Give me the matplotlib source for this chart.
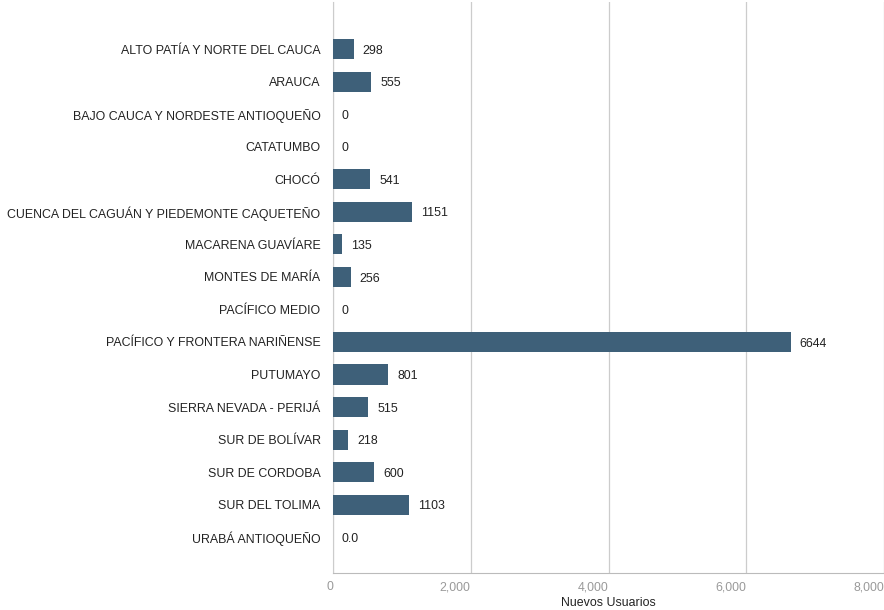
import matplotlib.pyplot as plt
from matplotlib import font_manager as fm

# fuente regular (evitar la variante Narrow)
ruta = [f.fname for f in fm.fontManager.ttflist
        if 'LiberationSans-Regular' in f.fname]
if ruta:
    fuente = fm.FontProperties(fname=ruta[0], size=8.9)
else:
    fuente = fm.FontProperties(family='DejaVu Sans', size=8.2)

regiones = ['ALTO PATÍA Y NORTE DEL CAUCA', 'ARAUCA', 'BAJO CAUCA Y NORDESTE ANTIOQUEÑO',
            'CATATUMBO', 'CHOCÓ', 'CUENCA DEL CAGUÁN Y PIEDEMONTE CAQUETEÑO',
            'MACARENA GUAVÍARE', 'MONTES DE MARÍA', 'PACÍFICO MEDIO',
            'PACÍFICO Y FRONTERA NARIÑENSE', 'PUTUMAYO', 'SIERRA NEVADA - PERIJÁ',
            'SUR DE BOLÍVAR', 'SUR DE CORDOBA', 'SUR DEL TOLIMA', 'URABÁ ANTIOQUEÑO']
usuarios = [298, 555, 0, 0, 541, 1151, 135, 256, 0, 6644, 801, 515, 218, 600, 1103, 0]
etiquetas = ['298', '555', '0', '0', '541', '1151', '135', '256', '0', '6644',
             '801', '515', '218', '600', '1103', '0.0']
ticks_x = [0, 2000, 4000, 6000, 8000]

fig = plt.figure(figsize=(8.84, 6.1), dpi=100)
ax = fig.add_axes([333/884, 1 - 573/610, (884 - 333)/884, (573 - 2)/610])

pos = list(range(len(regiones)))
ax.barh(pos, usuarios, height=0.62, color='#3e6079', zorder=3)
for p, v, t in zip(pos, usuarios, etiquetas):
    ax.text(v + 130, p + 0.05, t, va='center', ha='left', fontproperties=fuente, color='#222222')

ax.set_yticks(pos)
ax.set_yticklabels(regiones, fontproperties=fuente, color='#222222')
ax.set_ylim(len(regiones) - 1 + 1.1, -1.45)
ax.set_xlim(0, 7960)
ax.set_xticks(ticks_x)
ax.set_xticklabels([f'{t:,}' for t in ticks_x], fontproperties=fuente, color='#9a9a9a', ha='right')
ax.tick_params(axis='y', length=0, pad=9)
ax.tick_params(axis='x', length=0, pad=6)
ax.grid(axis='x', color='#cccccc', linewidth=0.9, zorder=0)
for s in ['top', 'right']:
    ax.spines[s].set_visible(False)
ax.spines['left'].set_color('#cccccc')
ax.spines['bottom'].set_color('#bbbbbb')
ax.set_xlabel('Nuevos Usuarios', fontproperties=fuente, color='#222222', labelpad=3)

fig.savefig('out.png', dpi=100)
